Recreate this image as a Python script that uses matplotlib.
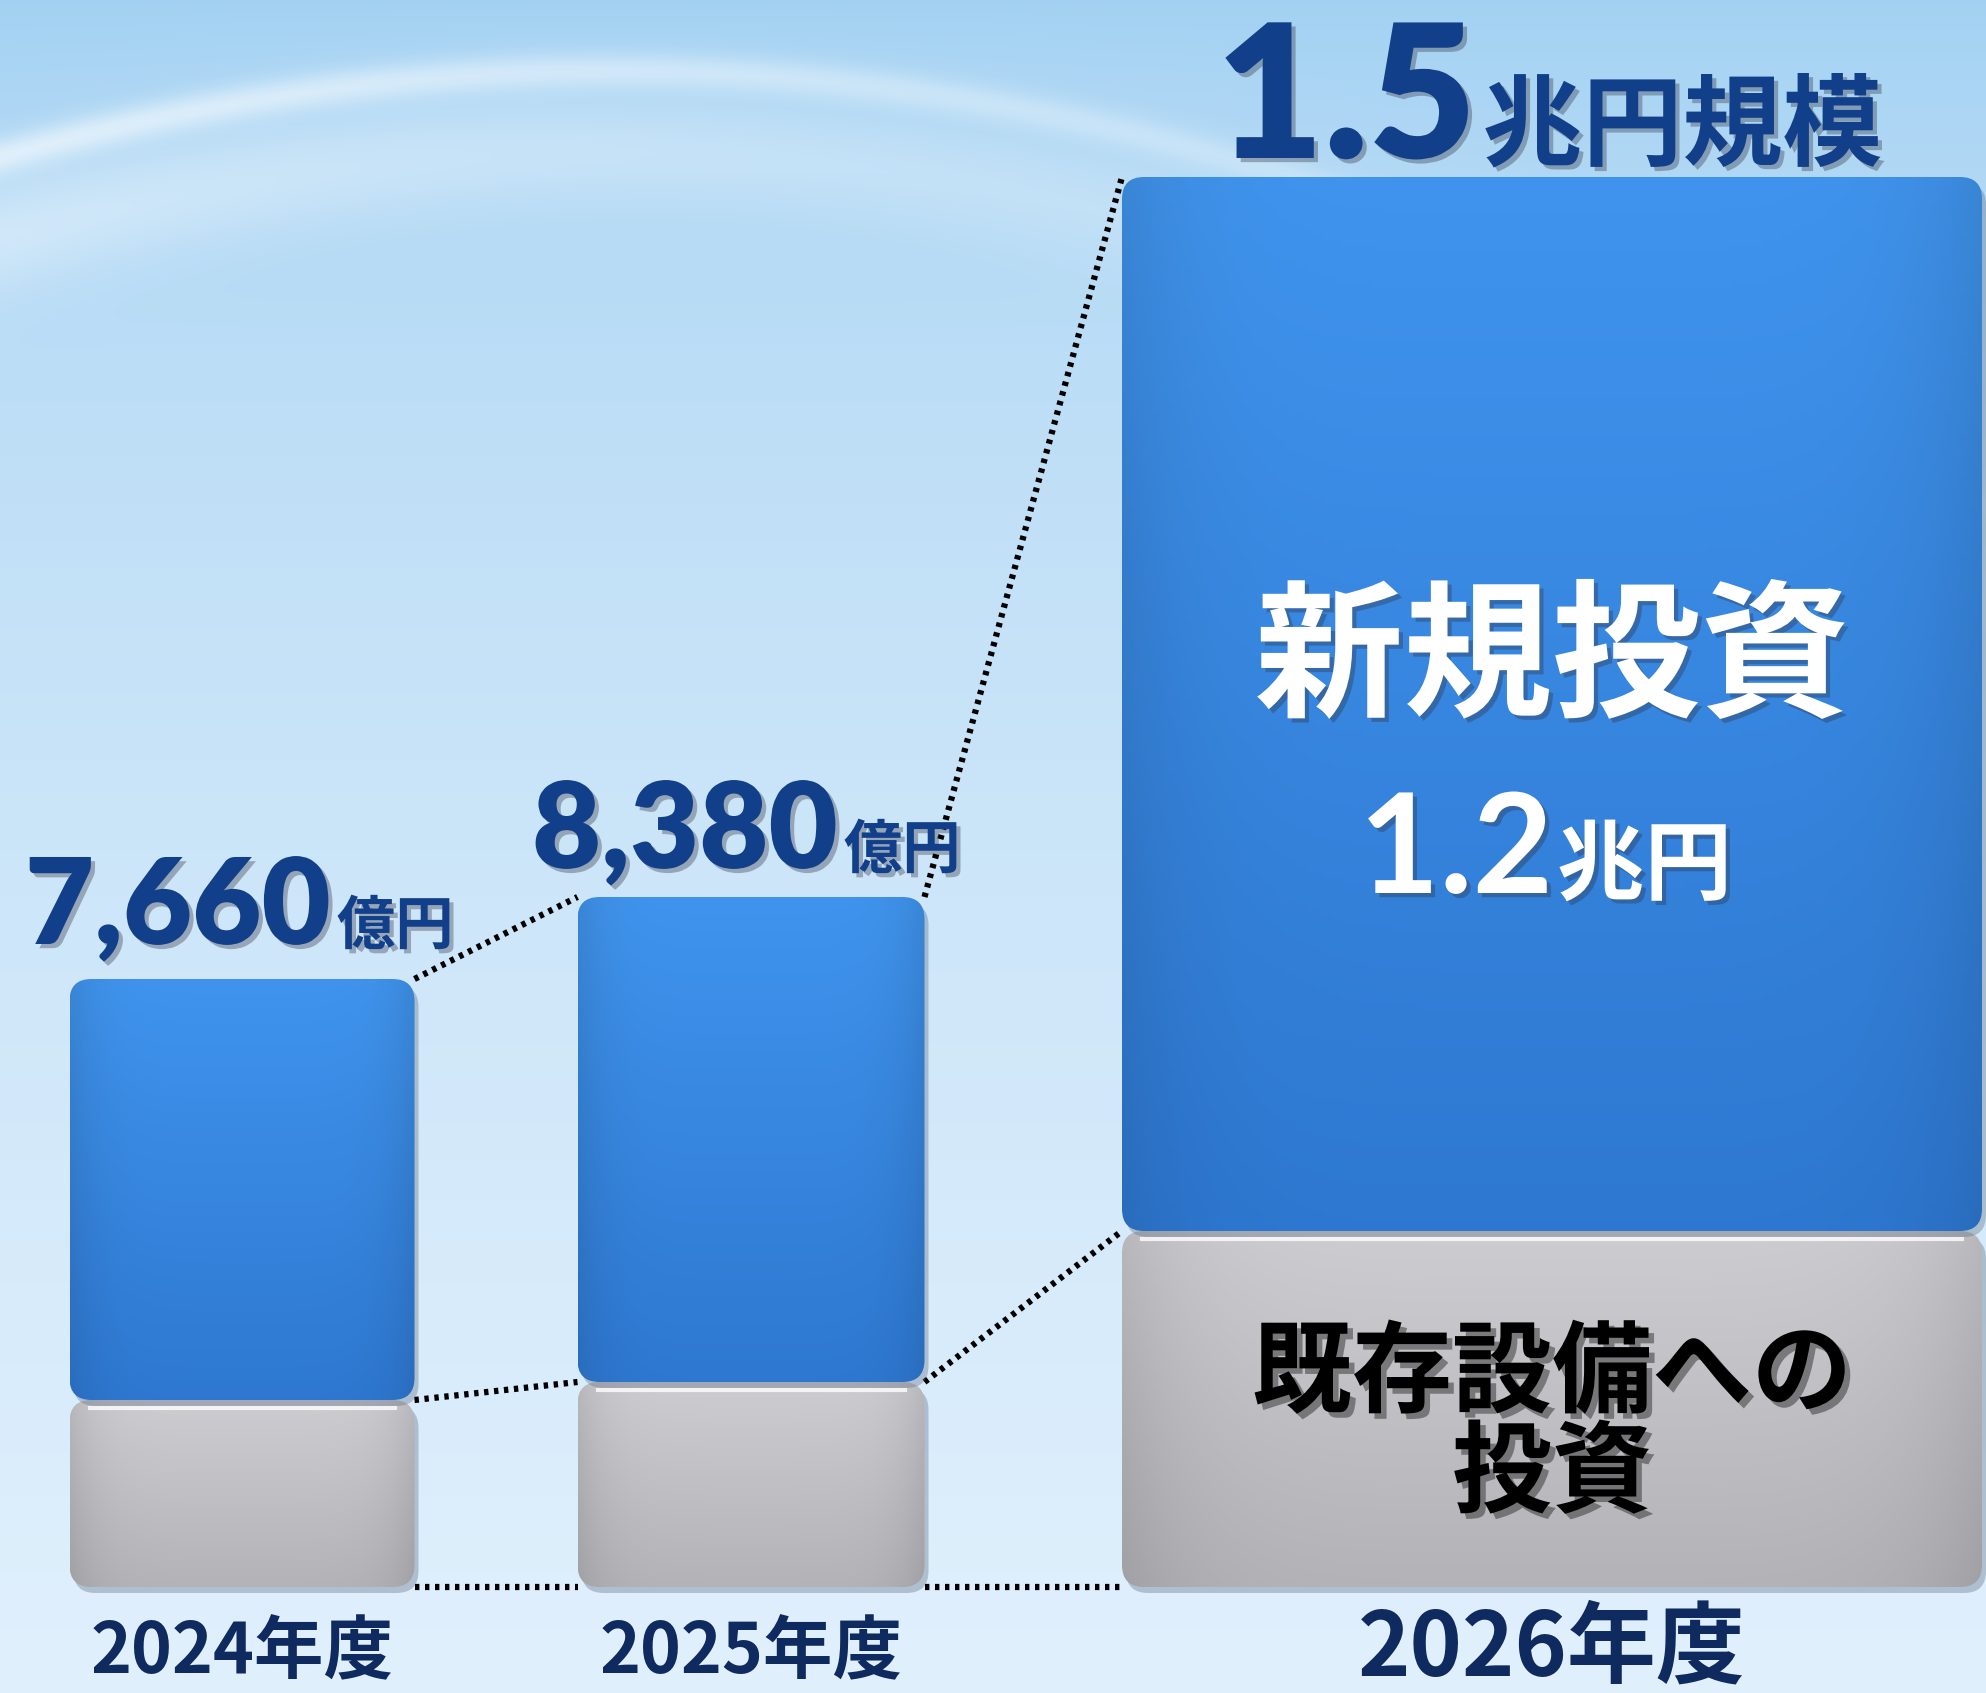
import numpy as np
import matplotlib.pyplot as plt
import matplotlib.patheffects as pe
from matplotlib.patches import FancyBboxPatch

plt.rcParams['font.family'] = ['Noto Sans CJK JP', 'DejaVu Sans']

# data (bar heights, arbitrary units)
years = ['2024年度', '2025年度', '2026年度']
existing = [187, 205, 356]      # 既存設備への投資
new = [421, 485, 1054]          # 新規投資
total_num = ['7,660', '8,380', '1.5']
total_unit = ['億円', '億円', '兆円規模']
new_label = '新規投資'
new_num = '1.2'
new_unit = '兆円'
exist_label = ['既存設備への', '投資']

# layout
xpos = [242, 751, 1552]
widths = [345, 347, 860]
W, H = 1986, 1693
base = 106  # baseline height from the bottom edge

fig = plt.figure(figsize=(W / 100, H / 100), dpi=100)
ax = fig.add_axes([0, 0, 1, 1])
ax.set_axis_off()

# background
yy, xx = np.mgrid[0:H, 0:W]
t = yy / H
top = np.array([0.64, 0.82, 0.95])
bot = np.array([0.88, 0.94, 0.99])
bg = top[None, None, :] * (1 - t[..., None] ** 0.6) + bot[None, None, :] * t[..., None] ** 0.6
arc = 70 + 2.3e-4 * (xx - 612) ** 2
d = yy - arc
band = np.exp(-(d / 18) ** 2) * 0.55 + np.exp(-((d - 80) / 55) ** 2) * 0.35
band *= np.clip(1 - xx / 2300, 0.2, 1)
above = np.clip(-d / 120, 0, 1) * 0.10
bg = bg * (1 - band[..., None]) + band[..., None]
bg = bg - above[..., None] * np.array([0.1, 0.04, 0.0])
ax.imshow(np.clip(bg, 0, 1), extent=(0, W, -base, H - base), origin='upper',
          aspect='auto', zorder=0)


def grad_fill(patch, c_top, c_bot, z):
    x0, y0 = patch.get_x(), patch.get_y()
    w, h = patch.get_width(), patch.get_height()
    n = 200
    v = np.linspace(0, 1, n)[:, None]
    u = np.linspace(-1, 1, n)[None, :]
    c_top, c_bot = np.array(c_top), np.array(c_bot)
    img = c_bot[None, None, :] * (1 - v[..., None]) + c_top[None, None, :] * v[..., None]
    edge = (1 - 0.10 * np.abs(u) ** 6)[..., None]
    img = img * edge
    box = FancyBboxPatch((x0, y0), w, h, boxstyle='round,pad=0,rounding_size=22',
                         facecolor='none', edgecolor='none', zorder=z)
    ax.add_patch(box)
    im = ax.imshow(np.clip(img, 0, 1), extent=(x0, x0 + w, y0, y0 + h), origin='lower',
                   aspect='auto', zorder=z)
    im.set_clip_path(box)
    shadow = FancyBboxPatch((x0 + 4, y0 - 6), w, h, boxstyle='round,pad=0,rounding_size=22',
                            facecolor='#5a6a80', alpha=0.35, edgecolor='none', zorder=z - 0.5)
    ax.add_patch(shadow)


gray_bars = ax.bar(xpos, existing, width=widths, color='none')
blue_bars = ax.bar(xpos, new, width=widths, bottom=existing, color='none')

for p in gray_bars:
    grad_fill(p, (0.80, 0.80, 0.82), (0.70, 0.70, 0.72), 3)
    ax.plot([p.get_x() + 20, p.get_x() + p.get_width() - 20],
            [p.get_y() + p.get_height() - 8] * 2, color='white', lw=3, alpha=0.8, zorder=3.5)
for p in blue_bars:
    grad_fill(p, (0.25, 0.58, 0.93), (0.18, 0.47, 0.82), 4)

# dotted connectors between neighbouring bars
for i in range(len(xpos) - 1):
    r = xpos[i] + widths[i] / 2
    l = xpos[i + 1] - widths[i + 1] / 2
    for y0, y1 in [(0, 0), (existing[i], existing[i + 1]),
                   (existing[i] + new[i], existing[i + 1] + new[i + 1])]:
        ax.plot([r, l], [y0, y1], color='black', lw=4.5, ls=(0, (0.7, 0.9)), zorder=2)

ax.set_xlim(0, W)
ax.set_ylim(-base, H - base)

renderer = fig.canvas.get_renderer()
shadow_fx = [pe.withSimplePatchShadow(offset=(3, -3), shadow_rgbFace='#303040', alpha=0.35)]
navy = '#123f8a'
num_font = ['Lato', 'Noto Sans CJK JP']

# totals above the bars
num_x = [25, 532, 1216]
num_y = [643, 719, 1429]
num_size = [86, 86, 134]
unit_size = [42, 42, 72]
for i in range(3):
    t1 = ax.text(num_x[i], num_y[i], total_num[i], fontsize=num_size[i], color=navy,
                 fontweight='heavy', family=num_font, ha='left', va='baseline',
                 path_effects=shadow_fx, zorder=6)
    bb = t1.get_window_extent(renderer)
    xr = ax.transData.inverted().transform((bb.x1, bb.y0))[0]
    ax.text(xr + 6, num_y[i], total_unit[i], fontsize=unit_size[i], color=navy,
            fontweight='bold', ha='left', va='baseline', path_effects=shadow_fx, zorder=6)

# inside labels on the 2026 bar
ax.text(xpos[2], 925, new_label, fontsize=107, color='white', fontweight='bold',
        ha='center', va='center', path_effects=shadow_fx, zorder=6)
t2 = ax.text(1359, 694, new_num, fontsize=100, color='white', fontweight='bold',
             family=num_font, ha='left', va='baseline', path_effects=shadow_fx, zorder=6)
bb = t2.get_window_extent(renderer)
xr = ax.transData.inverted().transform((bb.x1, bb.y0))[0]
ax.text(xr + 4, 694, new_unit, fontsize=63, color='white', fontweight='bold',
        ha='left', va='baseline', path_effects=shadow_fx, zorder=6)

ex_fx = [pe.withSimplePatchShadow(offset=(4, -4), shadow_rgbFace='#202020', alpha=0.45)]
ax.text(xpos[2], 212, exist_label[0], fontsize=72, color='black', fontweight='bold',
        ha='center', va='center', path_effects=ex_fx, zorder=6)
ax.text(xpos[2], 112, exist_label[1], fontsize=72, color='black', fontweight='bold',
        ha='center', va='center', path_effects=ex_fx, zorder=6)

# year labels
year_size = [50, 50, 64]
year_y = [-66, -66, -62]
for i in range(3):
    ax.text(xpos[i], year_y[i], years[i], fontsize=year_size[i], color='#0e2a5e',
            fontweight='bold', ha='center', va='center', zorder=6)

fig.savefig('out.png', dpi=100)
